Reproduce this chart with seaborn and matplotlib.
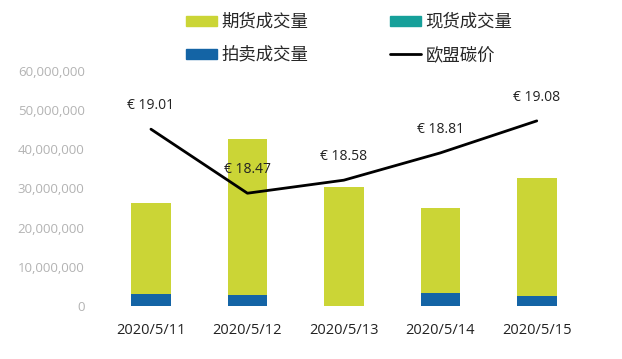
import numpy as np
import pandas as pd
import seaborn as sns
import matplotlib.pyplot as plt
from matplotlib.patches import Patch
from matplotlib.lines import Line2D
from matplotlib.ticker import FuncFormatter

# données
dates = ["2020/5/11", "2020/5/12", "2020/5/13", "2020/5/14", "2020/5/15"]
futures = [23300000, 39900000, 30400000, 21800000, 30300000]   # 期货成交量
spot = [0, 0, 0, 0, 0]                                         # 现货成交量
auction = [3000000, 2700000, 0, 3200000, 2400000]              # 拍卖成交量
price = [19.01, 18.47, 18.58, 18.81, 19.08]                     # 欧盟碳价

c_fut, c_spot, c_auc = "#cbd536", "#16a09a", "#1464a5"

sns.set_theme(style="white")
plt.rcParams["font.family"] = ["Open Sans", "Noto Sans CJK SC", "DejaVu Sans"]

df = pd.DataFrame({"date": dates, "futures": futures, "spot": spot, "auction": auction})
df["total"] = df["futures"] + df["spot"] + df["auction"]
df["low"] = df["spot"] + df["auction"]

fig = plt.figure(figsize=(6.22, 3.59), dpi=100)
ax = fig.add_axes([0.145, 0.148, 0.811, 0.654])

# barres empilées : on superpose les cumuls
for col, c in [("total", c_fut), ("low", c_spot), ("auction", c_auc)]:
    sns.barplot(data=df, x="date", y=col, color=c, width=0.41, saturation=1,
                linewidth=0, ax=ax)

ax.set_ylim(0, 60000000)
ax.set_xlim(-0.63, 4.6)
ax.set_yticks(np.arange(0, 60000001, 10000000))
ax.yaxis.set_major_formatter(FuncFormatter(lambda v, p: f"{int(v):,}"))
ax.tick_params(axis="y", colors="#b3b3b3", labelsize=9.5, length=0, pad=4)
ax.tick_params(axis="x", colors="#222222", labelsize=10.5, length=0, pad=12)
ax.set_xlabel("")
ax.set_ylabel("")
sns.despine(ax=ax, left=True, bottom=True)

# prix sur un axe secondaire caché
ax2 = ax.twinx()
sns.lineplot(x=np.arange(len(price)), y=price, color="black", linewidth=2, ax=ax2)
ax2.set_ylim(17.52, 19.5)
ax2.set_yticks([])
ax2.set_ylabel("")
sns.despine(ax=ax2, left=True, bottom=True, right=True)
for i, p in enumerate(price):
    ax2.annotate(f"€ {p:.2f}", (i, p), xytext=(0, 17), textcoords="offset points",
                 ha="center", va="center", fontsize=10, color="#222222")

# légende (ordre ligne par ligne comme l'original)
handles = [Patch(color=c_fut), Patch(color=c_auc), Patch(color=c_spot),
           Line2D([], [], color="black", linewidth=2)]
labels = ["期货成交量", "拍卖成交量", "现货成交量", "欧盟碳价"]
fig.legend(handles, labels, ncol=2, loc="upper left", bbox_to_anchor=(186 / 622, 1 - 13 / 359),
           frameon=False, borderpad=0, borderaxespad=0, handlelength=1.8, handleheight=0.5,
           handletextpad=0.25, columnspacing=4.7, labelspacing=0.85,
           prop={"family": ["Noto Sans CJK SC"], "size": 12.5})

fig.savefig("out.png", dpi=100)
